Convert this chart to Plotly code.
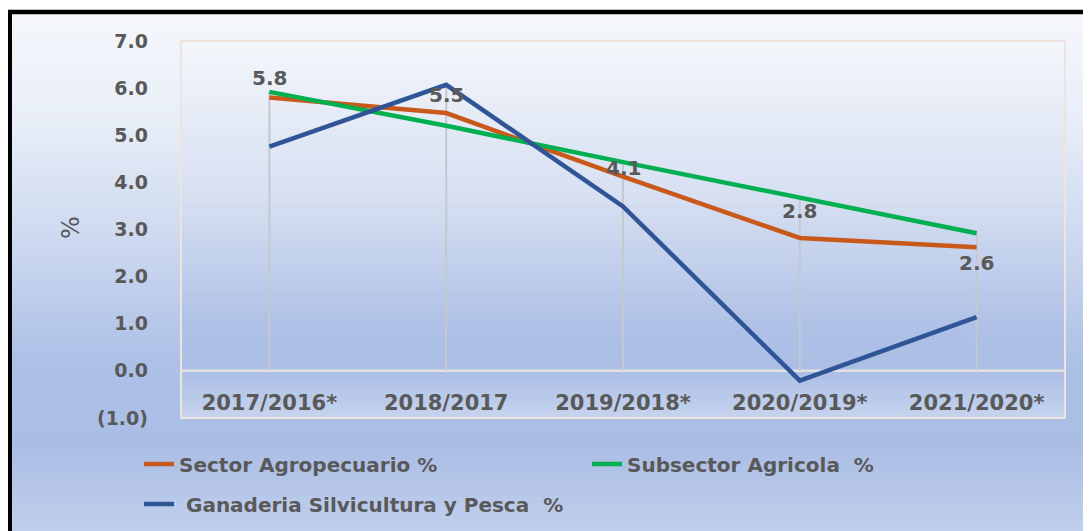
import plotly.graph_objects as go

categories = ["2017/2016*", "2018/2017", "2019/2018*", "2020/2019*", "2021/2020*"]
sector_agro = [5.80, 5.47, 4.12, 2.82, 2.62]
subsector_agricola = [5.92, 5.20, 4.43, 3.67, 2.92]
ganaderia = [4.76, 6.07, 3.49, -0.21, 1.14]
y_tickvals = [-1, 0, 1, 2, 3, 4, 5, 6, 7]
y_ticktext = ["(1.0)", "0.0", "1.0", "2.0", "3.0", "4.0", "5.0", "6.0", "7.0"]
names = ["Sector Agropecuario %", "Subsector Agricola\u00a0\u00a0%", "\u00a0Ganaderia Silvicultura y Pesca\u00a0\u00a0%"]
label_shift = [20, 18, 9, 27, -16]

W, H = 1091, 531
OFF = 8  # page body margin
# plot area edges in screenshot pixels
L, R, T, B = 181, 1065, 41, 418
FONT = "DejaVu Sans"
GREY = "#595959"


def sx(px):
    return (px - L) / (R - L)


def sy(py):
    return (B - py) / (B - T)


def hex2rgb(h):
    h = h.lstrip("#")
    return tuple(int(h[i:i + 2], 16) for i in (0, 2, 4))


def interp(stops, y):
    for (y0, c0), (y1, c1) in zip(stops, stops[1:]):
        if y0 <= y <= y1:
            t = (y - y0) / (y1 - y0) if y1 > y0 else 0
            a, b = hex2rgb(c0), hex2rgb(c1)
            return "rgb(%d,%d,%d)" % tuple(round(a[i] + (b[i] - a[i]) * t) for i in range(3))
    return stops[-1][1]


shapes = []
bg_stops = [(12, "#f5f7fc"), (120, "#e8eef8"), (250, "#cbd7ef"), (360, "#adc0e6"),
            (445, "#aabde5"), (545, "#c4d2ed")]
n = 90
y0p, y1p = 12, 545
for i in range(n):
    a = y0p + (y1p - y0p) * i / n
    b = y0p + (y1p - y0p) * (i + 1) / n
    shapes.append(dict(type="rect", xref="paper", yref="paper", x0=sx(11), x1=sx(W + 20),
                       y0=sy(b + 0.5), y1=sy(a - 0.5), fillcolor=interp(bg_stops, (a + b) / 2),
                       line=dict(width=0), layer="below"))
pa_stops = [(41, "#f3f6fb"), (200, "#d6dff1"), (330, "#aec0e6"), (372, "#abbee5"), (418, "#c6d4ee")]
n = 60
for i in range(n):
    a = T + (B - T) * i / n
    b = T + (B - T) * (i + 1) / n
    shapes.append(dict(type="rect", xref="paper", yref="paper", x0=0, x1=1,
                       y0=sy(b + 0.5), y1=sy(a - 0.5), fillcolor=interp(pa_stops, (a + b) / 2),
                       line=dict(width=0), layer="below"))
shapes.append(dict(type="rect", xref="paper", yref="paper", x0=0, x1=1, y0=0, y1=1,
                   line=dict(color="#efe4dd", width=2), layer="below"))
shapes.append(dict(type="line", xref="paper", yref="y", x0=0, x1=1, y0=0, y1=0,
                   line=dict(color="#e2e2e4", width=2.5), layer="below"))
# outer black border (top and left)
shapes.append(dict(type="line", xref="paper", yref="paper", x0=sx(7), x1=sx(W + 20),
                   y0=sy(12), y1=sy(12), line=dict(color="black", width=4.5)))
shapes.append(dict(type="line", xref="paper", yref="paper", x0=sx(9.5), x1=sx(9.5),
                   y0=sy(10), y1=sy(H + 20), line=dict(color="black", width=5)))

fig = go.Figure()

dx, dy = [], []
for i, c in enumerate(categories):
    top = max(sector_agro[i], subsector_agricola[i], ganaderia[i])
    dx += [c, c, None]
    dy += [0, top, None]
fig.add_trace(go.Scatter(x=dx, y=dy, mode="lines", line=dict(color="#c4c8cf", width=2),
                         showlegend=False, hoverinfo="skip"))

fig.add_trace(go.Scatter(x=categories, y=sector_agro, mode="lines", name=names[0],
                         line=dict(color="#C9591A", width=4.5), legend="legend"))
fig.add_trace(go.Scatter(x=categories, y=subsector_agricola, mode="lines", name=names[1],
                         line=dict(color="#00B050", width=4.5), legend="legend"))
fig.add_trace(go.Scatter(x=categories, y=ganaderia, mode="lines", name=names[2],
                         line=dict(color="#2F5597", width=4.5), legend="legend2"))

annotations = []
for c, v, s in zip(categories, sector_agro, label_shift):
    annotations.append(dict(x=c, y=v, xref="x", yref="y", text="%.1f" % v, showarrow=False,
                            yshift=s, font=dict(family=FONT, size=20, color=GREY, weight="bold")))
annotations.append(dict(x=sx(71), y=sy(228), xref="paper", yref="paper", text="%",
                        xanchor="center", yanchor="middle",
                        showarrow=False, textangle=-90,
                        font=dict(family=FONT, size=24, color=GREY)))

legend_font = dict(family=FONT, size=20, color=GREY, weight="bold")
fig.update_layout(
    width=W, height=H,
    margin=dict(l=L - OFF, r=W - (R - OFF), t=T - OFF, b=H - (B - OFF)),
    paper_bgcolor="white",
    plot_bgcolor="rgba(0,0,0,0)",
    shapes=shapes,
    annotations=annotations,
    xaxis=dict(type="category", range=[-0.5, 4.5], showgrid=False, showline=False, zeroline=False,
               ticks="", ticklabelstandoff=-30,
               tickfont=dict(family=FONT, size=21, color=GREY, weight="bold")),
    yaxis=dict(range=[-1.002, 7], tickvals=y_tickvals, ticktext=y_ticktext, showgrid=False,
               zeroline=False, showline=False, ticks="", ticklabelstandoff=32,
               tickfont=dict(family=FONT, size=19, color=GREY, weight="bold")),
    legend=dict(orientation="h", x=sx(139), xanchor="left", y=sy(464), yanchor="middle",
                font=legend_font, bgcolor="rgba(0,0,0,0)", entrywidth=403, entrywidthmode="pixels"),
    legend2=dict(orientation="h", x=sx(139), xanchor="left", y=sy(504), yanchor="middle",
                 font=legend_font, bgcolor="rgba(0,0,0,0)"),
    showlegend=True,
)

fig.write_html("out.html")
